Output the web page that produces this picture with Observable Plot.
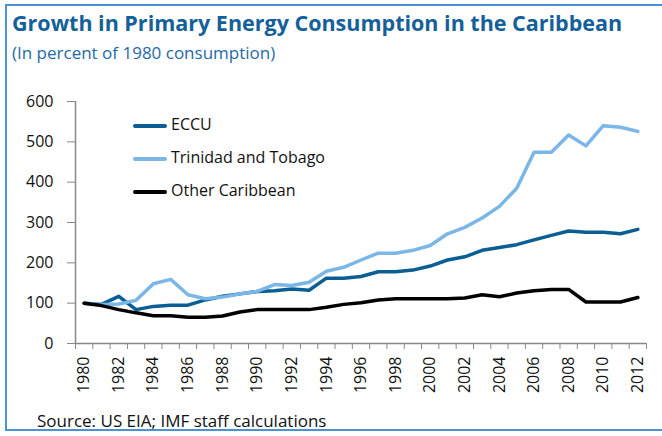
<!DOCTYPE html>
<html><head><meta charset="utf-8">
<script src="https://cdn.jsdelivr.net/npm/d3@7"></script>
<script src="https://cdn.jsdelivr.net/npm/@observablehq/plot@0.6"></script>
<style>
body{margin:0;background:#fff;font-family:"Open Sans",Lato,sans-serif;}
#wrap{position:relative;width:662px;height:436px;overflow:hidden;}
#frame{position:absolute;left:5px;top:4px;width:720px;height:427px;border:2px solid #4a92d4;border-right:none;box-sizing:border-box;}
#title{position:absolute;left:12px;top:8px;font-size:21.5px;font-weight:bold;color:#13609a;white-space:nowrap;}
#subtitle{position:absolute;left:12px;top:41px;font-size:17px;color:#1e6aa6;white-space:nowrap;}
#chart{position:absolute;left:0;top:70px;}
#legend{position:absolute;left:133px;top:113px;font-size:16px;color:#111;}
#legend .row{height:33px;display:flex;align-items:flex-start;}
#legend .sw{width:34px;height:4px;border-radius:2px;margin-top:11px;margin-right:4px;}
#caption{position:absolute;left:37px;top:409px;font-size:17px;color:#111;white-space:nowrap;}
</style></head>
<body>
<div id="wrap">
<div id="frame"></div>
<div id="title">Growth in Primary Energy Consumption in the Caribbean</div>
<div id="subtitle">(In percent of 1980 consumption)</div>
<div id="chart"></div>
<div id="legend"></div>
<div id="caption">Source: US EIA; IMF staff calculations</div>
</div>
<script>
const years = d3.range(1980, 2013);
const seriesNames = ["ECCU", "Trinidad and Tobago", "Other Caribbean"];
const seriesColors = ["#0b5e93", "#7ab6e6", "#000000"];
const eccu = [100,97,117,84,92,95,95,108,117,123,129,131,135,132,162,162,166,178,178,182,192,207,215,231,238,245,257,268,279,276,276,272,283];
const trinidad = [100,97,98,107,148,159,121,111,115,123,129,146,144,152,179,189,207,224,224,231,243,272,288,311,340,385,474,474,517,490,540,536,526];
const other = [100,94,84,76,69,69,65,65,68,78,84,84,84,84,90,97,101,108,111,111,111,111,113,121,116,125,131,134,134,103,103,103,114];
const yTicks = [0,100,200,300,400,500,600];
const xLabelYears = years.filter(y => y % 2 === 0);

const values = [eccu, trinidad, other];
const data = [];
seriesNames.forEach((s, i) => years.forEach((yr, j) => data.push({series: s, year: yr, value: values[i][j]})));
const boundaries = d3.range(1979.5, 2013, 1);

const chart = Plot.plot({
  width: 662,
  height: 340,
  marginLeft: 75,
  marginRight: 16,
  marginTop: 31,
  marginBottom: 67,
  style: {fontFamily: "'Open Sans', Lato, sans-serif", fontSize: "16px", color: "#111", background: "transparent"},
  x: {type: "linear", domain: [1979.5, 2012.5]},
  y: {domain: [0, 600]},
  color: {domain: seriesNames, range: seriesColors},
  marks: [
    Plot.axisY({ticks: yTicks, tickSize: 8, tickPadding: 14, stroke: "#888", label: null, fontSize: 16}),
    Plot.axisX({ticks: boundaries, tickSize: 6, tickFormat: () => "", stroke: "#888", label: null}),
    Plot.axisX({ticks: xLabelYears, tickSize: 0, tickPadding: 13, tickRotate: -90, tickFormat: d => String(d), label: null, fontSize: 16}),
    Plot.ruleY([0], {stroke: "#888", strokeWidth: 1.5}),
    Plot.ruleX([1979.5], {stroke: "#888", strokeWidth: 1.5}),
    Plot.line(data, {x: "year", y: "value", z: "series", stroke: "series", strokeWidth: 3.5, curve: "linear"})
  ]
});
document.getElementById("chart").appendChild(chart);

const legend = document.getElementById("legend");
seriesNames.forEach((s, i) => {
  const row = document.createElement("div");
  row.className = "row";
  const sw = document.createElement("div");
  sw.className = "sw";
  sw.style.background = seriesColors[i];
  const t = document.createElement("span");
  t.textContent = s;
  row.appendChild(sw); row.appendChild(t);
  legend.appendChild(row);
});
</script>
</body></html>
